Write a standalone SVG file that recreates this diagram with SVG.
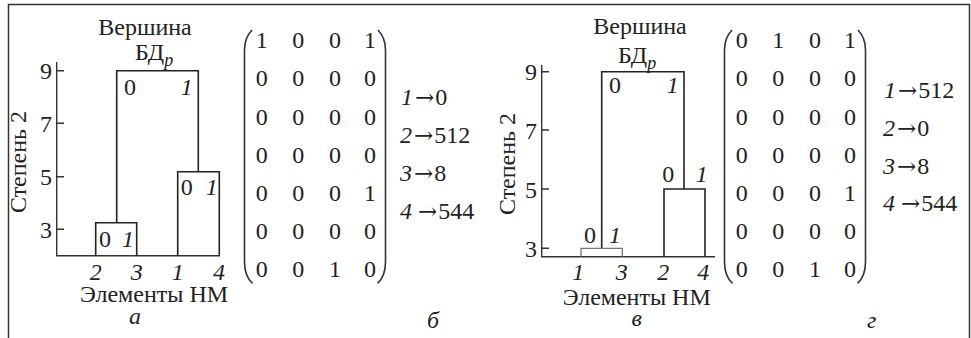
<svg xmlns="http://www.w3.org/2000/svg" width="971" height="338" viewBox="0 0 971 338">
<style>
text{font-family:"Liberation Serif","Times New Roman",serif;font-size:24px;fill:#222}
.i{font-style:italic}
.m{text-anchor:middle}
.e{text-anchor:end}
.ar{font-family:"DejaVu Serif","DejaVu Sans",serif;font-size:23px}
.ln{stroke:#222;stroke-width:1.6;fill:none}
.ax{stroke:#333;stroke-width:1.4;fill:none}
.par{stroke:#333;stroke-width:1.6;fill:none}
</style>
<rect width="971" height="338" fill="#fff"/>
<path d="M8.5,338 V4.5 H969.5 V338" stroke="#333" stroke-width="1.5" fill="none"/>

<!-- Panel a -->
<g id="panel-a">
  <text class="m" x="145" y="35">Вершина</text>
  <text x="135" y="60">БД<tspan class="i" font-size="18" dy="6">p</tspan></text>
  <g id="axes-a" class="ax">
    <path d="M56.7,62 V255.7 H220"/>
    <path d="M56.7,70.7 H64 M56.7,123.3 H64 M56.7,176.7 H64 M56.7,229.3 H64"/>
  </g>
  <text class="e" x="52" y="79">9</text>
  <text class="e" x="52" y="131.5">7</text>
  <text class="e" x="52" y="185">5</text>
  <text class="e" x="52" y="237.5">3</text>
  <text class="m" transform="translate(26,162) rotate(-90)">Степень 2</text>
  <text class="m i" x="95.7" y="280">2</text>
  <text class="m i" x="136.7" y="280">3</text>
  <text class="m i" x="177.7" y="280">1</text>
  <text class="m i" x="219" y="280">4</text>
  <text class="m" x="154" y="302">Элементы НМ</text>
  <text class="m i" x="135" y="324">а</text>
</g>
<g id="connectors-a" class="ln">
  <path d="M116.7,222.7 V70.7 H198.3 V171.7"/>
  <path d="M95.7,255.7 V222.7 H136.7 V255.7"/>
  <path d="M177.7,255.7 V171.7 H219.3 V255.7"/>
</g>
<g id="labels-a">
  <text class="m" x="130" y="95">0</text>
  <text class="m i" x="186.7" y="95">1</text>
  <text class="m" x="105" y="247">0</text>
  <text class="m i" x="128" y="247">1</text>
  <text class="m" x="186.7" y="195">0</text>
  <text class="m i" x="211.7" y="195">1</text>
</g>

<!-- Panel b -->
<g id="panel-b">
  <path class="par" d="M252,30 Q244.5,38 244.5,50 V262 Q244.5,276 252.5,283.5"/>
  <path class="par" d="M378,30 Q385.5,38 385.5,50 V262 Q385.5,276 377.5,283.5"/>
  <g>
    <text class="m" x="261.7" y="48.3">1</text><text class="m" x="298.3" y="48.3">0</text><text class="m" x="335" y="48.3">0</text><text class="m" x="370" y="48.3">1</text>
    <text class="m" x="261.7" y="86.4">0</text><text class="m" x="298.3" y="86.4">0</text><text class="m" x="335" y="86.4">0</text><text class="m" x="370" y="86.4">0</text>
    <text class="m" x="261.7" y="124.5">0</text><text class="m" x="298.3" y="124.5">0</text><text class="m" x="335" y="124.5">0</text><text class="m" x="370" y="124.5">0</text>
    <text class="m" x="261.7" y="162.5">0</text><text class="m" x="298.3" y="162.5">0</text><text class="m" x="335" y="162.5">0</text><text class="m" x="370" y="162.5">0</text>
    <text class="m" x="261.7" y="200.6">0</text><text class="m" x="298.3" y="200.6">0</text><text class="m" x="335" y="200.6">0</text><text class="m" x="370" y="200.6">1</text>
    <text class="m" x="261.7" y="238.7">0</text><text class="m" x="298.3" y="238.7">0</text><text class="m" x="335" y="238.7">0</text><text class="m" x="370" y="238.7">0</text>
    <text class="m" x="261.7" y="276.7">0</text><text class="m" x="298.3" y="276.7">0</text><text class="m" x="335" y="276.7">1</text><text class="m" x="370" y="276.7">0</text>
  </g>
  <text x="401" y="105"><tspan class="i">1</tspan><tspan class="ar" dx="2">→</tspan><tspan dx="1">0</tspan></text>
  <text x="400" y="143"><tspan class="i">2</tspan><tspan class="ar" dx="2">→</tspan><tspan dx="1">512</tspan></text>
  <text x="400" y="181"><tspan class="i">3</tspan><tspan class="ar" dx="2">→</tspan><tspan dx="1">8</tspan></text>
  <text x="400" y="219"><tspan class="i">4</tspan><tspan class="ar" dx="6">→</tspan><tspan dx="1">544</tspan></text>
  <text class="m i" x="433" y="328">б</text>
</g>

<!-- Panel c -->
<g id="panel-c">
  <text class="m" x="640" y="33.5">Вершина</text>
  <text x="618" y="63">БД<tspan class="i" font-size="18" dy="6">p</tspan></text>
  <g id="axes-c" class="ax">
    <path d="M541.7,65 V256.7 H715"/>
    <path d="M541.7,71.7 H549 M541.7,130 H549 M541.7,189 H549 M541.7,248.3 H549"/>
  </g>
  <text class="e" x="537" y="80">9</text>
  <text class="e" x="537" y="138.5">7</text>
  <text class="e" x="537" y="197.5">5</text>
  <text class="e" x="537" y="256.5">3</text>
  <text class="m" transform="translate(515,164) rotate(-90)">Степень 2</text>
  <text class="m i" x="578.3" y="280">1</text>
  <text class="m i" x="621.7" y="280">3</text>
  <text class="m i" x="663.3" y="280">2</text>
  <text class="m i" x="703.3" y="280">4</text>
  <text class="m" x="636.7" y="305">Элементы НМ</text>
  <text class="m i" x="636.7" y="326">в</text>
</g>
<g id="connectors-c" class="ln">
  <path d="M601.7,248.3 V71.7 H684 V189"/>
  <path d="M581,256.7 V248.3 H622.3 V256.7" stroke="#777" stroke-width="1.3"/>
  <path d="M664,256.7 V189 H705 V256.7"/>
</g>
<g id="labels-c">
  <text class="m" x="615" y="93.3">0</text>
  <text class="m i" x="672.7" y="93.3">1</text>
  <text class="m" x="590" y="243.3">0</text>
  <text class="m i" x="615" y="243.3">1</text>
  <text class="m" x="668.3" y="181.7">0</text>
  <text class="m i" x="701.7" y="181.7">1</text>
</g>

<!-- Panel d -->
<g id="panel-d">
  <path class="par" d="M732,30 Q724.5,38 724.5,50 V262 Q724.5,276 732.5,283.5"/>
  <path class="par" d="M858,30 Q865.5,38 865.5,50 V262 Q865.5,276 857.5,283.5"/>
  <g>
    <text class="m" x="741.7" y="48.3">0</text><text class="m" x="778.3" y="48.3">1</text><text class="m" x="815" y="48.3">0</text><text class="m" x="850" y="48.3">1</text>
    <text class="m" x="741.7" y="86.4">0</text><text class="m" x="778.3" y="86.4">0</text><text class="m" x="815" y="86.4">0</text><text class="m" x="850" y="86.4">0</text>
    <text class="m" x="741.7" y="124.5">0</text><text class="m" x="778.3" y="124.5">0</text><text class="m" x="815" y="124.5">0</text><text class="m" x="850" y="124.5">0</text>
    <text class="m" x="741.7" y="162.5">0</text><text class="m" x="778.3" y="162.5">0</text><text class="m" x="815" y="162.5">0</text><text class="m" x="850" y="162.5">0</text>
    <text class="m" x="741.7" y="200.6">0</text><text class="m" x="778.3" y="200.6">0</text><text class="m" x="815" y="200.6">0</text><text class="m" x="850" y="200.6">1</text>
    <text class="m" x="741.7" y="238.7">0</text><text class="m" x="778.3" y="238.7">0</text><text class="m" x="815" y="238.7">0</text><text class="m" x="850" y="238.7">0</text>
    <text class="m" x="741.7" y="276.7">0</text><text class="m" x="778.3" y="276.7">0</text><text class="m" x="815" y="276.7">1</text><text class="m" x="850" y="276.7">0</text>
  </g>
  <text x="884" y="98"><tspan class="i">1</tspan><tspan class="ar" dx="2">→</tspan><tspan dx="1">512</tspan></text>
  <text x="883" y="136"><tspan class="i">2</tspan><tspan class="ar" dx="2">→</tspan><tspan dx="1">0</tspan></text>
  <text x="883" y="174"><tspan class="i">3</tspan><tspan class="ar" dx="2">→</tspan><tspan dx="1">8</tspan></text>
  <text x="883" y="211"><tspan class="i">4</tspan><tspan class="ar" dx="6">→</tspan><tspan dx="1">544</tspan></text>
  <text class="m i" x="871.7" y="328">г</text>
</g>
</svg>
